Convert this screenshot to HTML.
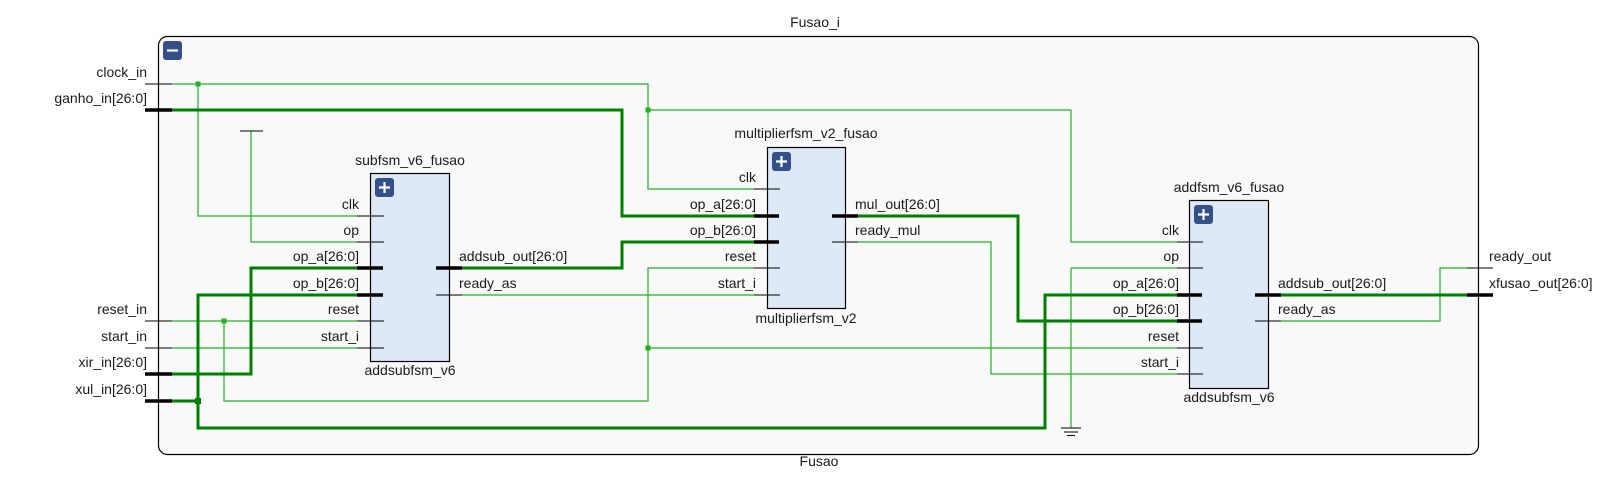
<!DOCTYPE html>
<html><head><meta charset="utf-8"><style>
html,body{margin:0;padding:0;background:#fff;}
svg{display:block;}
text{font-family:"Liberation Sans",sans-serif;font-size:14px;fill:#1a1a1a;}
.g{stroke:#1fb31f;stroke-width:1.2;fill:none;}
.b{stroke:#008000;stroke-width:3;fill:none;}
.k{stroke:#000;stroke-width:1;fill:none;}
.kb{stroke:#000;stroke-width:3.5;fill:none;}
.box{fill:#dee9f7;stroke:#000;stroke-width:1.2;}
.r{text-anchor:end;}
.m{text-anchor:middle;}
</style></head><body>
<svg width="1605" height="502" viewBox="0 0 1605 502">
<rect x="158.5" y="36.5" width="1320" height="418" rx="9" fill="#f9f9f9" stroke="#000" stroke-width="1.2"/>
<text x="815" y="27" class="m">Fusao_i</text>
<text x="819" y="466" class="m">Fusao</text>
<rect x="163" y="41" width="19" height="19" rx="3" fill="#34508a"/>
<line x1="167" y1="50.5" x2="178" y2="50.5" stroke="#fff" stroke-width="2.2"/>

<polyline class="g" points="172,84 648,84 648,189 754,189"/>
<polyline class="g" points="198,84 198,216 357,216"/>
<polyline class="g" points="648,110 1071,110 1071,242 1177,242"/>
<polyline class="g" points="251,131 251,242 357,242"/>
<polyline class="g" points="172,321 357,321"/>
<polyline class="g" points="224,321 224,401 648,401 648,268 754,268"/>
<polyline class="g" points="648,348 1177,348"/>
<polyline class="g" points="172,348 357,348"/>
<polyline class="g" points="462,295 754,295"/>
<polyline class="g" points="858,242 991,242 991,374 1177,374"/>
<polyline class="g" points="1071,268 1177,268"/>
<polyline class="g" points="1071,268 1071,428"/>
<polyline class="g" points="1281,321 1440,321 1440,268 1467,268"/>
<line x1="1061" y1="428" x2="1081" y2="428" class="k"/>
<line x1="1064" y1="432" x2="1078" y2="432" class="k"/>
<line x1="1067" y1="435.5" x2="1075" y2="435.5" class="k"/>
<line x1="240" y1="131" x2="263" y2="131" class="k"/>

<polyline class="b" points="172,110 622,110 622,216 754,216"/>
<polyline class="b" points="462,268 622,268 622,242 754,242"/>
<polyline class="b" points="172,374 251,374 251,268 357,268"/>
<polyline class="b" points="172,401 198,401"/>
<polyline class="b" points="357,295 198,295 198,428 1045,428 1045,295 1177,295"/>
<polyline class="b" points="858,216 1018,216 1018,321 1177,321"/>
<polyline class="b" points="1281,295 1467,295"/>

<rect x="195.5" y="81.5" width="5" height="5" fill="#1fb31f"/>
<rect x="645.5" y="107.5" width="5" height="5" fill="#1fb31f"/>
<rect x="221.5" y="318.5" width="5" height="5" fill="#1fb31f"/>
<rect x="645.5" y="345.5" width="5" height="5" fill="#1fb31f"/>
<rect x="195" y="398" width="6" height="6" fill="#008000"/>

<line x1="145" y1="84" x2="172" y2="84" class="k"/>
<line x1="145" y1="110" x2="172" y2="110" class="kb"/>
<line x1="145" y1="321" x2="172" y2="321" class="k"/>
<line x1="145" y1="348" x2="172" y2="348" class="k"/>
<line x1="145" y1="374" x2="172" y2="374" class="kb"/>
<line x1="145" y1="401" x2="172" y2="401" class="kb"/>
<text x="147" y="77" class="r">clock_in</text>
<text x="147" y="103" class="r">ganho_in[26:0]</text>
<text x="147" y="314" class="r">reset_in</text>
<text x="147" y="341" class="r">start_in</text>
<text x="147" y="367" class="r">xir_in[26:0]</text>
<text x="147" y="394" class="r">xul_in[26:0]</text>
<line x1="1467" y1="268" x2="1493" y2="268" class="k"/>
<line x1="1467" y1="295" x2="1493" y2="295" class="kb"/>
<text x="1489" y="261">ready_out</text>
<text x="1489" y="288">xfusao_out[26:0]</text>

<text x="410" y="165" class="m">subfsm_v6_fusao</text>
<rect class="box" x="370.5" y="173.5" width="79" height="188"/>
<rect x="375" y="178" width="19" height="19" rx="3" fill="#34508a"/>
<path d="M379 187.5h11M384.5 182v11" stroke="#fff" stroke-width="2.2"/>
<line x1="357" y1="216" x2="384" y2="216" class="k"/>
<line x1="357" y1="242" x2="384" y2="242" class="k"/>
<line x1="357" y1="268" x2="383" y2="268" class="kb"/>
<line x1="357" y1="295" x2="383" y2="295" class="kb"/>
<line x1="357" y1="321" x2="384" y2="321" class="k"/>
<line x1="357" y1="348" x2="384" y2="348" class="k"/>
<line x1="436" y1="268" x2="462" y2="268" class="kb"/>
<line x1="436" y1="295" x2="462" y2="295" class="k"/>
<text x="359" y="209" class="r">clk</text>
<text x="359" y="235" class="r">op</text>
<text x="359" y="261" class="r">op_a[26:0]</text>
<text x="359" y="288" class="r">op_b[26:0]</text>
<text x="359" y="314" class="r">reset</text>
<text x="359" y="341" class="r">start_i</text>
<text x="459" y="261">addsub_out[26:0]</text>
<text x="459" y="288">ready_as</text>
<text x="410" y="375" class="m">addsubfsm_v6</text>

<text x="806" y="138" class="m">multiplierfsm_v2_fusao</text>
<rect class="box" x="767.5" y="147.5" width="78" height="161"/>
<rect x="772" y="152" width="19" height="19" rx="3" fill="#34508a"/>
<path d="M776 161.5h11M781.5 156v11" stroke="#fff" stroke-width="2.2"/>
<line x1="754" y1="189" x2="780" y2="189" class="k"/>
<line x1="754" y1="216" x2="779" y2="216" class="kb"/>
<line x1="754" y1="242" x2="779" y2="242" class="kb"/>
<line x1="754" y1="268" x2="780" y2="268" class="k"/>
<line x1="754" y1="295" x2="780" y2="295" class="k"/>
<line x1="832" y1="216" x2="858" y2="216" class="kb"/>
<line x1="832" y1="242" x2="858" y2="242" class="k"/>
<text x="756" y="182" class="r">clk</text>
<text x="756" y="209" class="r">op_a[26:0]</text>
<text x="756" y="235" class="r">op_b[26:0]</text>
<text x="756" y="261" class="r">reset</text>
<text x="756" y="288" class="r">start_i</text>
<text x="855" y="209">mul_out[26:0]</text>
<text x="855" y="235">ready_mul</text>
<text x="806" y="323" class="m">multiplierfsm_v2</text>

<text x="1229" y="192" class="m">addfsm_v6_fusao</text>
<rect class="box" x="1189.5" y="200.5" width="79" height="188"/>
<rect x="1194" y="205" width="19" height="19" rx="3" fill="#34508a"/>
<path d="M1198 214.5h11M1203.5 209v11" stroke="#fff" stroke-width="2.2"/>
<line x1="1177" y1="242" x2="1203" y2="242" class="k"/>
<line x1="1177" y1="268" x2="1203" y2="268" class="k"/>
<line x1="1177" y1="295" x2="1202" y2="295" class="kb"/>
<line x1="1177" y1="321" x2="1202" y2="321" class="kb"/>
<line x1="1177" y1="348" x2="1203" y2="348" class="k"/>
<line x1="1177" y1="374" x2="1203" y2="374" class="k"/>
<line x1="1255" y1="295" x2="1281" y2="295" class="kb"/>
<line x1="1255" y1="321" x2="1281" y2="321" class="k"/>
<text x="1179" y="235" class="r">clk</text>
<text x="1179" y="261" class="r">op</text>
<text x="1179" y="288" class="r">op_a[26:0]</text>
<text x="1179" y="314" class="r">op_b[26:0]</text>
<text x="1179" y="341" class="r">reset</text>
<text x="1179" y="367" class="r">start_i</text>
<text x="1278" y="288">addsub_out[26:0]</text>
<text x="1278" y="314">ready_as</text>
<text x="1229" y="402" class="m">addsubfsm_v6</text>
</svg>
</body></html>
